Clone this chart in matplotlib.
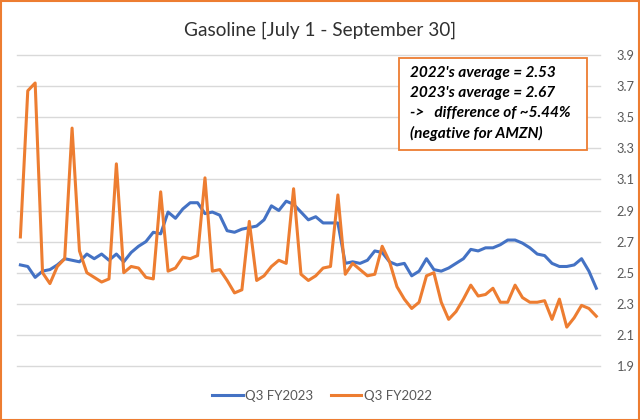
import matplotlib
matplotlib.use("Agg")
import matplotlib.pyplot as plt
from matplotlib.patches import Rectangle

plt.rcParams['font.family'] = ['Lato', 'DejaVu Sans']

title = "Gasoline [July 1 - September 30]"
series_names = ["Q3 FY2023", "Q3 FY2022"]
y_ticks = [1.9, 2.1, 2.3, 2.5, 2.7, 2.9, 3.1, 3.3, 3.5, 3.7, 3.9]

fy2023 = [2.55, 2.54, 2.47, 2.51, 2.52, 2.55, 2.59, 2.58, 2.57, 2.62,
          2.59, 2.62, 2.58, 2.62, 2.57, 2.63, 2.67, 2.70, 2.76, 2.75,
          2.89, 2.85, 2.91, 2.95, 2.95, 2.88, 2.89, 2.87, 2.77, 2.76,
          2.78, 2.79, 2.80, 2.84, 2.93, 2.90, 2.96, 2.94, 2.89, 2.84,
          2.86, 2.82, 2.82, 2.82, 2.56, 2.57, 2.56, 2.58, 2.64, 2.63,
          2.57, 2.55, 2.56, 2.48, 2.51, 2.59, 2.52, 2.51, 2.53, 2.56,
          2.59, 2.65, 2.64, 2.66, 2.66, 2.68, 2.71, 2.71, 2.69, 2.66,
          2.62, 2.61, 2.56, 2.54, 2.54, 2.55, 2.59, 2.51, 2.40]

fy2022 = [2.73, 3.67, 3.72, 2.50, 2.43, 2.54, 2.59, 3.43, 2.64, 2.50,
          2.47, 2.44, 2.46, 3.20, 2.50, 2.54, 2.53, 2.47, 2.46, 3.02,
          2.51, 2.53, 2.60, 2.59, 2.61, 3.11, 2.51, 2.52, 2.45, 2.37,
          2.39, 2.83, 2.45, 2.48, 2.54, 2.58, 2.56, 3.04, 2.49, 2.45,
          2.48, 2.53, 2.54, 3.00, 2.49, 2.56, 2.52, 2.48, 2.49, 2.67,
          2.57, 2.41, 2.33, 2.27, 2.31, 2.48, 2.50, 2.31, 2.20, 2.25,
          2.33, 2.42, 2.35, 2.36, 2.40, 2.31, 2.31, 2.42, 2.34, 2.31,
          2.31, 2.32, 2.20, 2.33, 2.15, 2.21, 2.29, 2.27, 2.22]

annotation_lines = ["2022's average = 2.53",
                    "2023's average = 2.67",
                    "->   difference of ~5.44%",
                    "(negative for AMZN)"]

blue = "#4472C4"
orange = "#ED7D31"

W, H = 640, 420
fig = plt.figure(figsize=(6.4, 4.2), dpi=100)
fig.patch.set_facecolor("white")

# figure border
fig.patches.append(Rectangle((0.5 / W, 0.5 / H), 1 - 1.5 / W, 1 - 1.5 / H,
                             transform=fig.transFigure, fill=False,
                             edgecolor=orange, linewidth=1.5))

left, right, top, bottom = 16.7, 600, 55, 366
ax = fig.add_axes([left / W, 1 - bottom / H, (right - left) / W, (bottom - top) / H])
x = list(range(len(fy2023)))
ax.plot(x, fy2023, color=blue, linewidth=2.2, label=series_names[0],
        solid_joinstyle="round", zorder=3)
ax.plot(x, fy2022, color=orange, linewidth=2.2, label=series_names[1],
        solid_joinstyle="round", zorder=3)
ax.set_xlim(-0.5, len(x) - 0.5)
ax.set_ylim(1.9, 3.9)
ax.set_yticks(y_ticks)
ax.set_yticklabels([f"{v:.1f}" for v in y_ticks])
ax.yaxis.tick_right()
ax.tick_params(axis='y', length=0, pad=12, labelsize=9.3, labelcolor="#595959")
ax.set_xticks([])
for s in ax.spines.values():
    s.set_visible(False)
for v in y_ticks:
    ax.axhline(v, color="#D9D9D9", linewidth=1.0, zorder=1, clip_on=False)

fig.text(0.5, 1 - 30 / H, title, ha="center", va="center", fontsize=13.7,
         color="#303030")

leg = fig.legend(loc="center", bbox_to_anchor=(322 / W, 1 - 396 / H), ncol=2,
                 frameon=False, fontsize=9.5, handlelength=2.3,
                 columnspacing=1.3, handletextpad=0.2)
for t in leg.get_texts():
    t.set_color("#595959")

# annotation box
bx0, by0, bx1, by1 = 399, 58, 587, 150
fig.patches.append(Rectangle((bx0 / W, 1 - by1 / H), (bx1 - bx0) / W, (by1 - by0) / H,
                             transform=fig.transFigure, facecolor="white",
                             edgecolor=orange, linewidth=1.3, zorder=5))
for k, line in enumerate(annotation_lines):
    fig.text(410 / W, 1 - (73 + 20 * k) / H, line, ha="left", va="center",
             fontsize=11.1, fontweight="bold", fontstyle="italic",
             color="black", zorder=6)

fig.savefig("out.png", dpi=100)
